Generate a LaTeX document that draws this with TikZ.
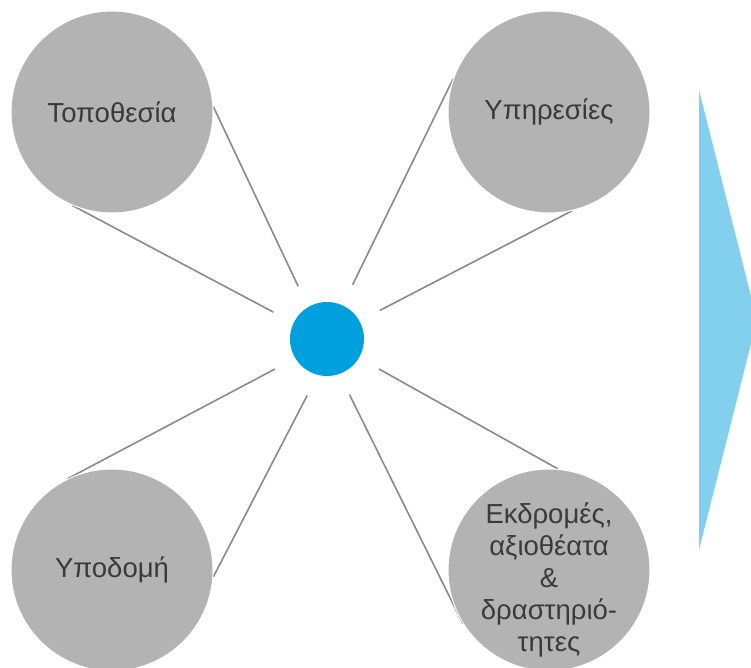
\documentclass[tikz,border=0pt]{standalone}
\usepackage{fontspec}
\setmainfont{Liberation Sans}
\usetikzlibrary{calc}
\definecolor{bubble}{HTML}{B3B3B3}
\definecolor{hub}{HTML}{00A0DF}
\definecolor{arrowblue}{HTML}{82D0EE}
\definecolor{link}{HTML}{8A8A8A}
\definecolor{txt}{HTML}{3A3A3A}
\tikzset{
  bubbletext/.style={text=txt, font=\fontsize{27.5}{32}\selectfont, align=center, inner sep=0pt},
  bubblenode/.style={circle, fill=bubble, draw=white, line width=1pt, minimum size=202pt, inner sep=0pt, bubbletext},
  hubnode/.style={circle, fill=hub, minimum size=74pt, inner sep=0pt},
  linkline/.style={draw=link, line width=1.6pt}
}
\begin{document}
\begin{tikzpicture}[x=1pt,y=1pt]
\useasboundingbox (0,0) rectangle (751,668);
\clip (0,0) rectangle (751,668);
\fill[white] (0,0) rectangle (751,668);
% arrow triangle
\coordinate (t1) at (699,578);
\coordinate (t2) at (757,348);
\coordinate (t3) at (699,118);
\fill[arrowblue] (t1) -- (t2) -- (t3) -- cycle;
% hub
\node[hubnode] (c) at (327,329) {};
% connector start points
\coordinate (s1) at ($(c)+(118.7:60)$);
\coordinate (s2) at ($(c)+(153.4:60)$);
\coordinate (s3) at ($(c)+(64.7:60)$);
\coordinate (s4) at ($(c)+(28.4:60)$);
\coordinate (s5) at ($(c)+(210:60)$);
\coordinate (s6) at ($(c)+(250.6:60)$);
\coordinate (s7) at ($(c)+(330:60)$);
\coordinate (s8) at ($(c)+(292:60)$);
% bubbles (positions)
\path (112,556) coordinate (ptl) (549,556) coordinate (ptr) (112,98) coordinate (pbl) (549,98) coordinate (pbr);
\node[bubblenode, fill=none, draw=none] (tl) at (ptl) {};
\node[bubblenode, fill=none, draw=none] (tr) at (ptr) {};
\node[bubblenode, fill=none, draw=none] (bl) at (pbl) {};
\node[bubblenode, fill=none, draw=none] (br) at (pbr) {};
% connectors
\draw[linkline] (s1) -- (tl.3);
\draw[linkline] (s2) -- (tl.247);
\draw[linkline] (s3) -- (tr.161);
\draw[linkline] (s4) -- (tr.283);
\draw[linkline] (s5) -- (bl.116);
\draw[linkline] (s6) -- (bl.356);
\draw[linkline] (s7) -- (br.85);
\draw[linkline] (s8) -- (br.212);
% bubbles drawn on top
\node[bubblenode] (tlb) at (ptl) {Τοποθεσία};
\node[bubblenode] (trb) at (ptr) {Υπηρεσίες};
\node[bubblenode] (blb) at (pbl) {Υποδομή};
\node[bubblenode] (brb) at (pbr) {};
\node[bubbletext] (brt) at ($(brb.center)+(0,-10)$) {Εκδρομές,\\αξιοθέατα\\\&\\δραστηριό-\\τητες};
\end{tikzpicture}
\end{document}
